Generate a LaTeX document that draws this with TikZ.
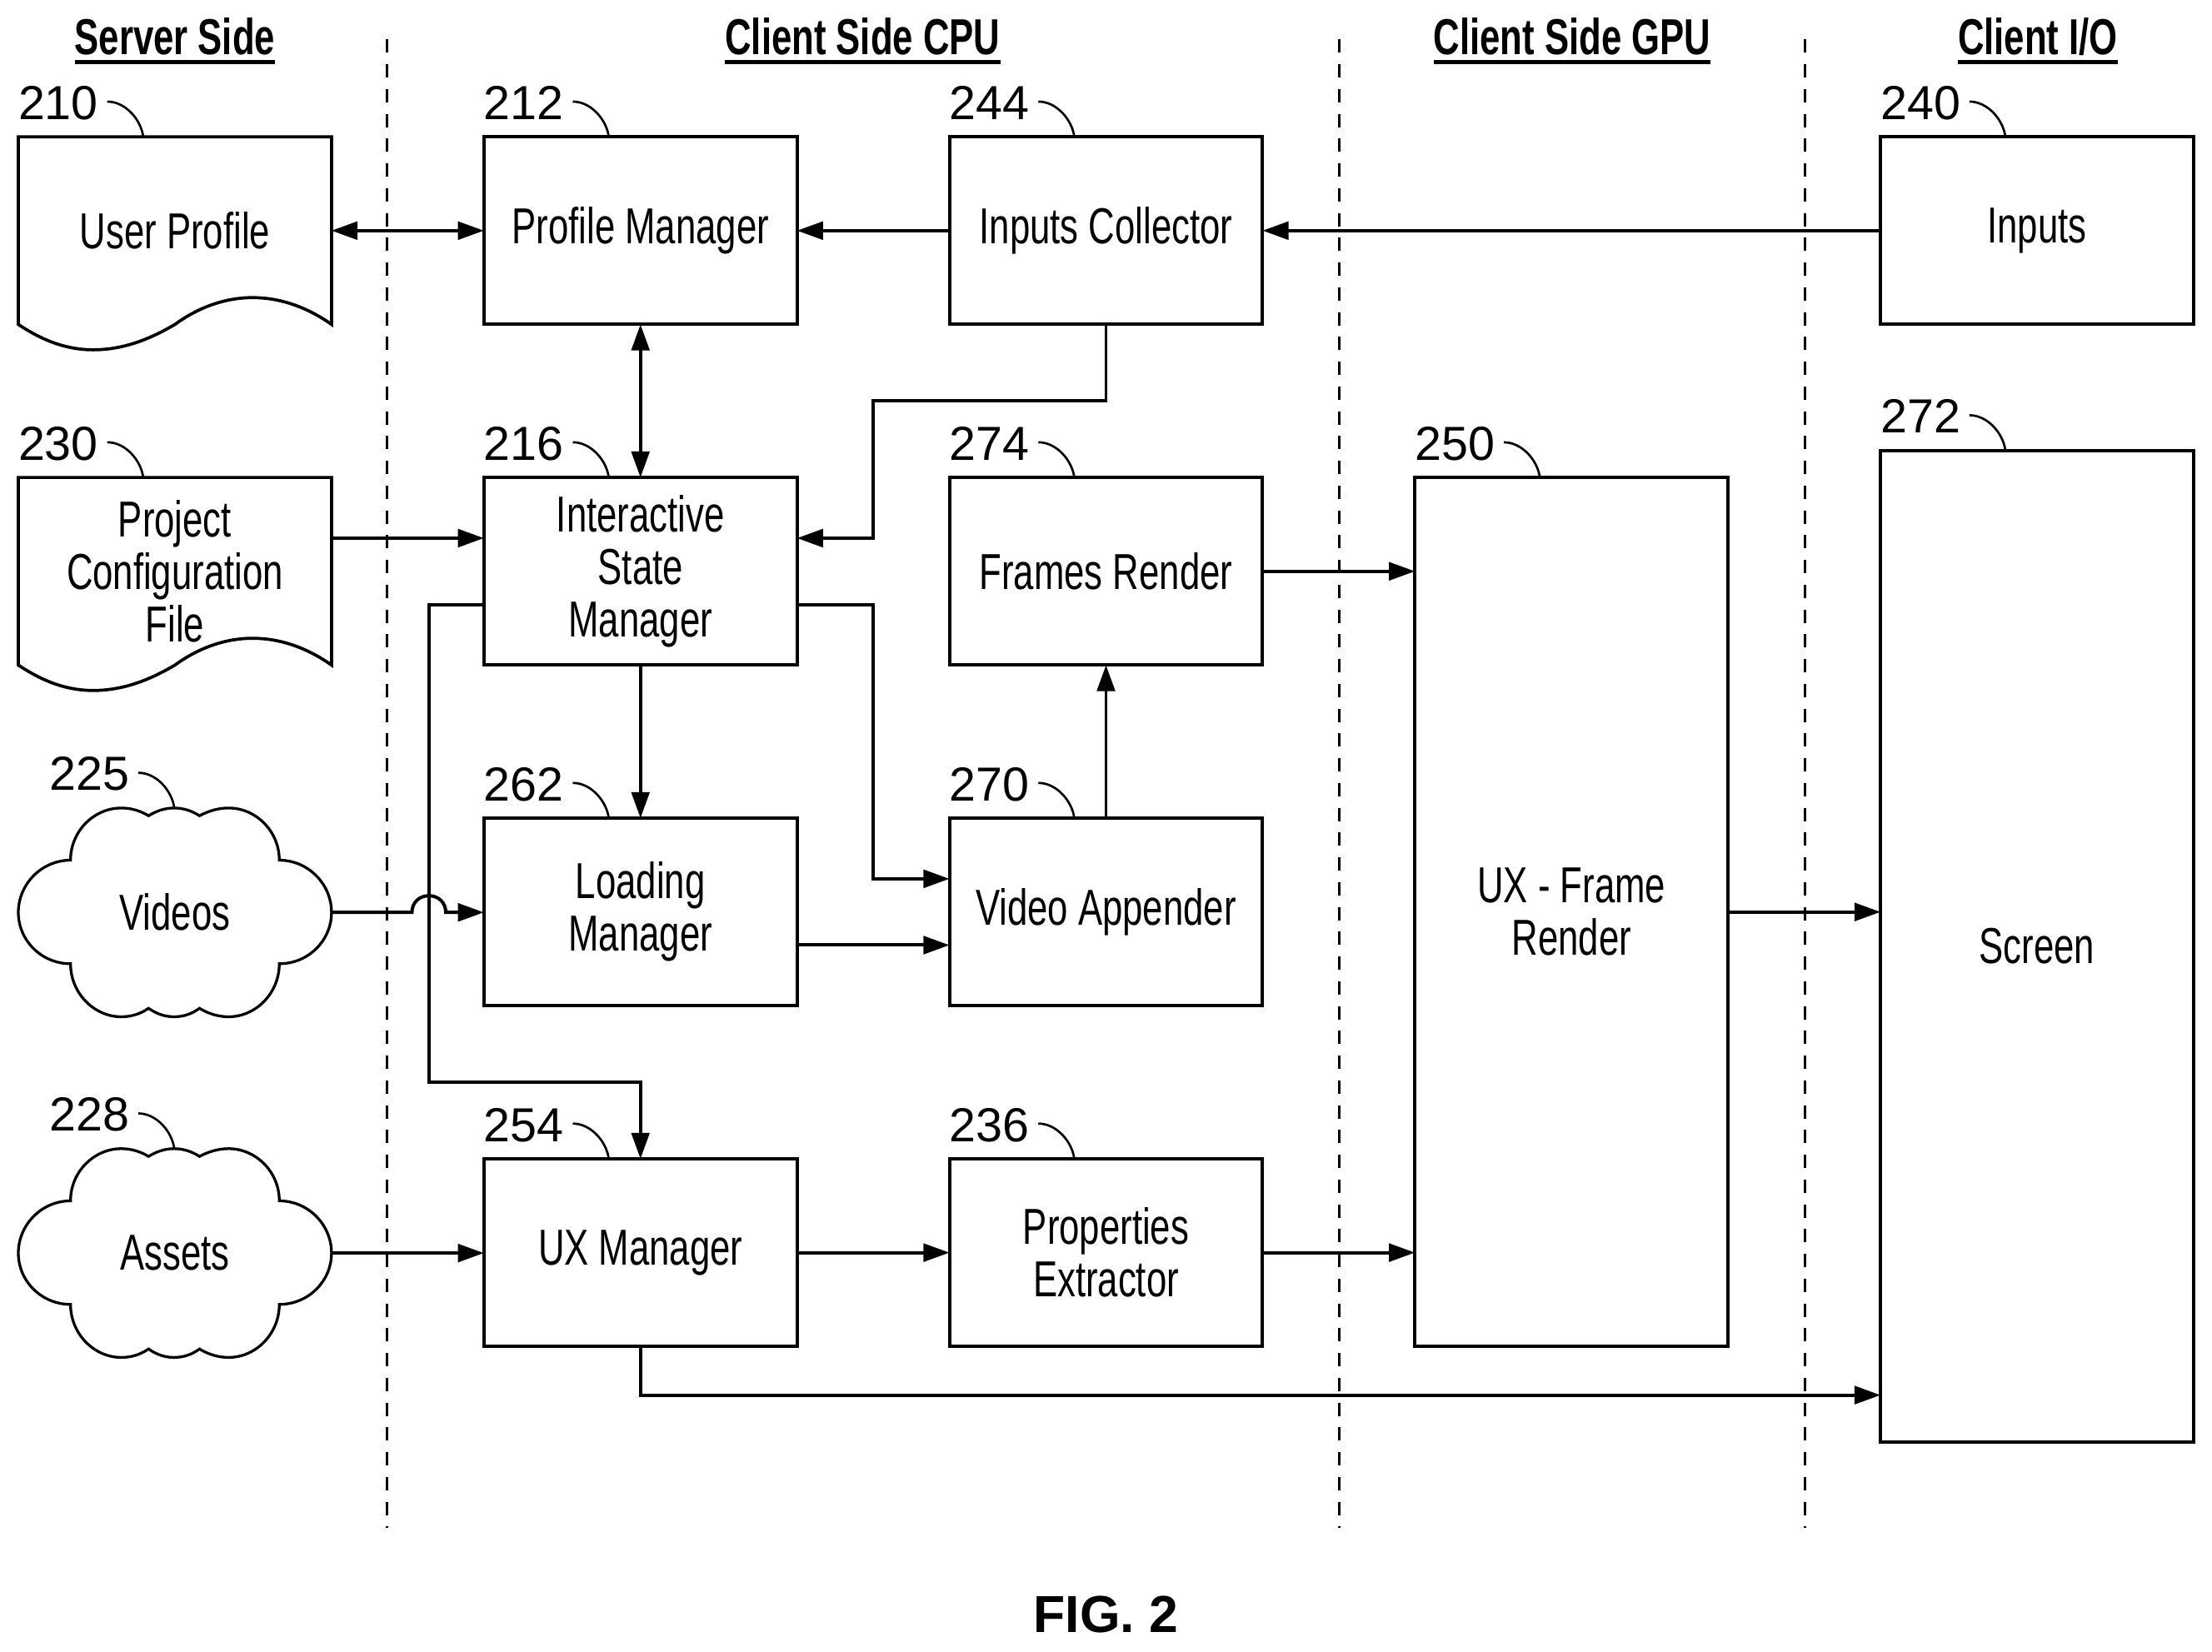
\documentclass[tikz,border=0pt]{standalone}
\usepackage{fontspec}
\usetikzlibrary{arrows.meta,calc}
\newfontfamily\labelfont[FakeStretch=0.72]{Liberation Sans}
\newfontfamily\plainfont{Liberation Sans}
\newcommand{\headtext}[1]{\setbox0\hbox{#1}\leavevmode\rlap{\rule[-3.9pt]{\wd0}{1.5pt}}\box0}
\newcommand{\docshape}[1]{\draw[line width=1.25pt,shift={(#1.south west)}] (0,0) -- (0,-133) -- (222,-133) -- (222,0)
    .. controls (205,-12) and (186,-19) .. (166,-19) .. controls (145,-19) and (126,-11) .. (111,0)
    .. controls (94,10) and (75,18) .. (53,18) .. controls (30,18) and (12,8) .. (0,0) -- cycle;}
\newcommand{\cloudshape}[1]{\draw[line width=1.1pt,shift={(#1.center)}] (-74,-37)
    .. controls (-74,-57.4) and (-57.6,-74) .. (-38,-74) .. controls (-31,-74) and (-24.5,-72) .. (-18.7,-68.5)
    .. controls (-13,-72) and (-7,-74) .. (-0.6,-74) .. controls (6,-74) and (12,-72) .. (17.4,-68.5)
    .. controls (24,-72) and (31,-74) .. (38,-74) .. controls (57.6,-74) and (74,-57.4) .. (74,-37)
    .. controls (94.5,-37) and (111,-20) .. (111,0) .. controls (111,20) and (94.5,36.4) .. (74,36.4)
    .. controls (74,57) and (57.6,74) .. (38,74) .. controls (31,74) and (24,72) .. (17.4,68)
    .. controls (12,72) and (6,74) .. (-0.6,74) .. controls (-7,74) and (-13,72) .. (-18.7,68)
    .. controls (-24.5,72) and (-31,74) .. (-38,74) .. controls (-57.6,74) and (-74,57) .. (-74,36.4)
    .. controls (-94.5,36.4) and (-111,20) .. (-111,0) .. controls (-111,-20) and (-94.5,-37) .. (-74,-37) -- cycle;}
\tikzset{
    >={Triangle[length=10.5pt,width=7.2pt]},
    wire/.style={line width=1.33pt},
    divider/.style={line width=1pt,dash pattern=on 5.4pt off 4.6pt},
    plainnode/.style={inner sep=0pt,outer sep=0pt,align=center,minimum width=4.44cm,minimum height=2.66cm,
        font=\labelfont\fontsize{20.4}{21.2}\selectfont},
    box/.style={plainnode,draw,line width=1.33pt},
    cloudnode/.style={plainnode,minimum height=2.96cm},
    numlabel/.style={inner sep=0pt,outer sep=0pt,anchor=base west,font=\plainfont\fontsize{19.3}{21}\selectfont},
    heading/.style={inner sep=0pt,outer sep=0pt,anchor=base,font=\labelfont\bfseries\fontsize{20.4}{21}\selectfont}
}
\begin{document}
\begin{tikzpicture}[x=0.02cm,y=-0.02cm]
    \useasboundingbox (0,0) rectangle (1568,1171.1);

    % Column headings
    \node[heading] (serverhead) at (124,38.5) {\headtext{Server Side}};
    \node[heading] (cpuhead) at (611.5,38.5) {\headtext{Client Side CPU}};
    \node[heading] (gpuhead) at (1114.5,38.5) {\headtext{Client Side GPU}};
    \node[heading] (iohead) at (1444.5,38.5) {\headtext{Client I/O}};

    % Dashed dividers
    \coordinate (divAtop) at (274.3,28);
    \coordinate (divAbot) at (274.3,1083);
    \coordinate (divBtop) at (949.3,28);
    \coordinate (divBbot) at (949.3,1083);
    \coordinate (divCtop) at (1279.3,28);
    \coordinate (divCbot) at (1279.3,1083);
    \draw[divider] (divAtop) -- (divAbot);
    \draw[divider] (divBtop) -- (divBbot);
    \draw[divider] (divCtop) -- (divCbot);

    % Server side
    \node[plainnode] (userprofile) at (124,163.5) {User Profile};
    \node[plainnode] (projectfile) at (124,405) {Project\\Configuration\\File};
    \node[cloudnode] (videos) at (124,646.8) {Videos};
    \node[cloudnode] (assets) at (124,888.3) {Assets};
    \docshape{userprofile}
    \docshape{projectfile}
    \cloudshape{videos}
    \cloudshape{assets}

    % Client side CPU
    \node[box] (profile) at (454,163.5) {Profile Manager};
    \node[box] (collector) at (784,163.5) {Inputs Collector};
    \node[box] (state) at (454,405) {Interactive\\State\\Manager};
    \node[box] (frames) at (784,405) {Frames Render};
    \node[box] (loading) at (454,646.5) {Loading\\Manager};
    \node[box] (appender) at (784,646.5) {Video Appender};
    \node[box] (uxmanager) at (454,888) {UX Manager};
    \node[box] (extractor) at (784,888) {Properties\\Extractor};

    % Client side GPU and client I/O
    \node[box,minimum height=12.32cm] (uxframe) at (1114,646.5) {UX - Frame\\Render};
    \node[box] (inputs) at (1444,163.5) {Inputs};
    \node[box,minimum height=14.06cm] (screen) at (1444,670.8) {Screen};

    % Reference numerals with their leaders
    \foreach \boxname/\num/\dx in {userprofile/210/0,profile/212/0,collector/244/0,inputs/240/0,
        projectfile/230/0,state/216/0,frames/274/0,uxframe/250/0,screen/272/0,
        videos/225/22,loading/262/0,appender/270/0,assets/228/22,uxmanager/254/0,extractor/236/0}{
        \node[numlabel] (n\num) at ($(\boxname.north west)+(\dx,-12.4)$) {\num};
        \draw[line width=0.9pt] ($(\boxname.north west)+(\dx+63,-25)$)
            .. controls ($(\boxname.north west)+(\dx+76,-25)$) and ($(\boxname.north west)+(\dx+87,-12)$)
            .. ($(\boxname.north west)+(\dx+88.5,0)$);
    }

    % Connectors along the top row
    \draw[wire,<->] (userprofile.east) -- (profile.west);
    \draw[wire,->] (collector.west) -- (profile.east);
    \draw[wire,->] (inputs.west) -- (collector.east);
    \draw[wire,<->] (profile.south) -- (state.north);

    % Inputs collector down to the state manager
    \coordinate (collectorbend) at (619,284);
    \draw[wire,->] (collector.south) |- (collectorbend) |- ($(state.east)+(0,-23.5)$);
    \draw[wire,->] ($(projectfile.east)+(0,-23.5)$) -- ($(state.west)+(0,-23.5)$);

    % State manager outputs
    \draw[wire,->] (state.south) -- (loading.north);
    \coordinate (stateright) at (619,428.5);
    \draw[wire,->] ($(state.east)+(0,23.5)$) -- (stateright) |- ($(appender.west)+(0,-23.5)$);
    \coordinate (stateleft) at (304,428.5);
    \coordinate (statedown) at (304,767);
    \draw[wire,->] ($(state.west)+(0,23.5)$) -- (stateleft) -- (statedown) -| (uxmanager.north);

    % Videos hop over the state manager line
    \coordinate (hopstart) at (292,646.8);
    \coordinate (hopend) at (316,646.8);
    \draw[wire,->] (videos.east) -- (hopstart) .. controls (292,640) and (297,635) .. (304,635)
        .. controls (311,635) and (316,640) .. (hopend) -- (hopend -| loading.west);

    % Remaining flow
    \draw[wire,->] ($(loading.east)+(0,23.5)$) -- ($(appender.west)+(0,23.5)$);
    \draw[wire,->] (appender.north) -- (frames.south);
    \draw[wire,->] (frames.east) -- (frames.east -| uxframe.west);
    \draw[wire,->] (uxframe.east) -- (uxframe.east -| screen.west);
    \draw[wire,->] (assets.east) -- (assets.east -| uxmanager.west);
    \draw[wire,->] (uxmanager.east) -- (extractor.west);
    \draw[wire,->] (extractor.east) -- (extractor.east -| uxframe.west);
    \coordinate (uxlow) at (454,989);
    \draw[wire,->] (uxmanager.south) -- (uxlow) -- (uxlow -| screen.west);

    \node[inner sep=0pt,anchor=base,font=\plainfont\bfseries\fontsize{21}{23}\selectfont] (figlabel) at (784,1157) {FIG. 2};
\end{tikzpicture}
\end{document}
